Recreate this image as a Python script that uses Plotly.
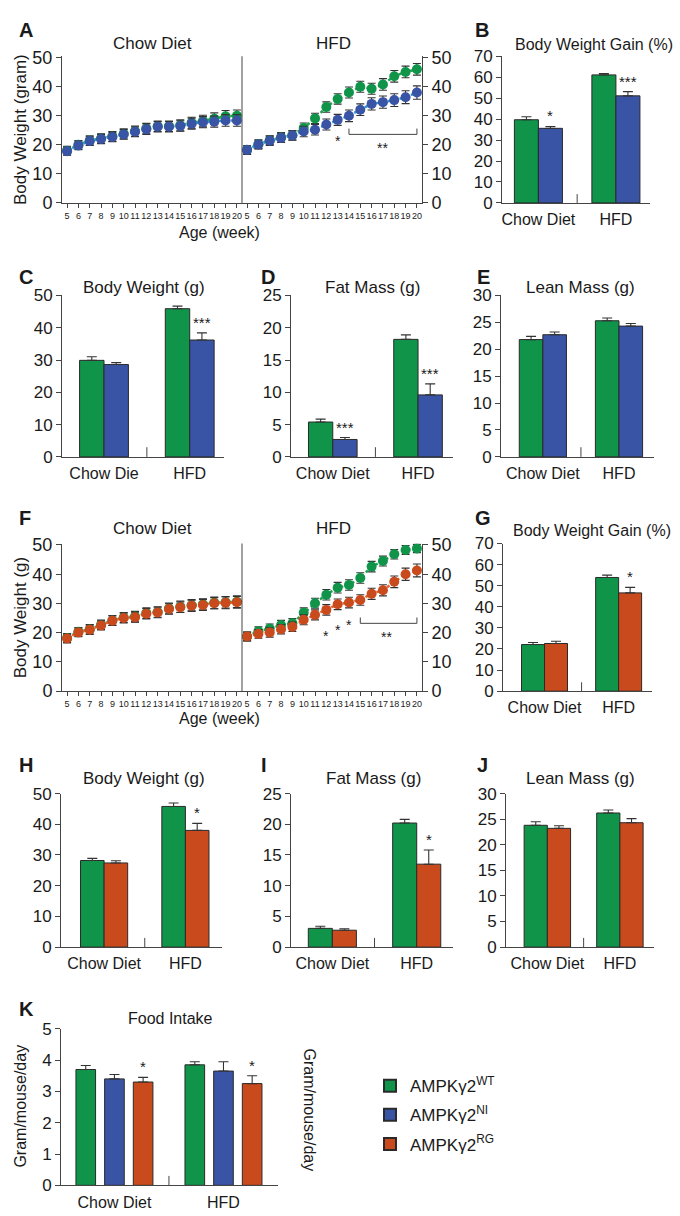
import plotly.graph_objects as go

W, H = 680, 1216
FONT = "Liberation Sans, Arial, sans-serif"
NARROW = "Liberation Sans Narrow, Arial Narrow, Liberation Sans, Arial, sans-serif"
TXT = "#1a1a1a"
AX = "#444444"
ERR = "#333333"
GREEN = "#10944a"
BLUE = "#3a54a5"
ORANGE = "#c94a1c"
GREEN_LINE = "#1fa34f"
BLUE_LINE = "#2b95d6"
ORANGE_LINE = "#e0622a"

# ---------------- data ----------------
weeks = list(range(5, 21))
groups = ["Chow Diet", "HFD"]
groups_c = ["Chow Die", "HFD"]

# Panel A: body weight (gram), WT vs NI
a_chow_wt = [18.0, 20.0, 21.5, 22.2, 22.9, 23.8, 24.7, 25.6, 26.4, 26.4, 26.7, 27.6, 28.2, 29.0, 29.8, 30.0]
a_chow_ni = [17.8, 19.8, 21.3, 22.0, 22.7, 23.6, 24.5, 25.4, 26.2, 26.2, 26.5, 27.3, 27.8, 28.0, 28.4, 28.4]
a_chow_wt_err = [1.5, 1.5, 1.6, 1.6, 1.7, 1.7, 1.8, 1.8, 1.8, 1.8, 1.9, 1.9, 2.0, 2.0, 2.0, 2.0]
a_chow_ni_err = [1.4, 1.5, 1.5, 1.6, 1.6, 1.7, 1.7, 1.8, 1.8, 1.8, 1.8, 1.9, 1.9, 1.9, 2.0, 2.0]
a_hfd_wt = [18.3, 20.2, 21.6, 22.6, 23.3, 25.8, 29.1, 33.0, 35.8, 38.0, 40.0, 39.3, 40.8, 43.6, 45.1, 46.0]
a_hfd_ni = [18.2, 20.1, 21.4, 22.4, 23.2, 24.6, 25.2, 27.0, 28.6, 30.0, 32.1, 34.1, 34.7, 35.4, 36.4, 38.0]
a_hfd_wt_err = [1.4, 1.5, 1.5, 1.6, 1.6, 1.7, 1.8, 1.8, 1.8, 1.9, 1.9, 1.9, 2.0, 2.0, 2.0, 2.0]
a_hfd_ni_err = [1.5, 1.5, 1.6, 1.6, 1.6, 1.8, 1.8, 1.9, 1.9, 2.0, 2.0, 2.1, 2.1, 2.2, 2.2, 2.3]

# Panel F: body weight (g), WT vs RG
f_chow_wt = [18.2, 20.3, 21.2, 22.7, 24.2, 25.2, 25.5, 26.7, 27.1, 28.3, 28.9, 29.4, 29.7, 30.2, 30.4, 30.6]
f_chow_rg = [18.0, 20.1, 21.0, 22.5, 24.1, 25.0, 25.3, 26.5, 26.9, 28.1, 28.7, 29.2, 29.5, 30.1, 30.2, 30.4]
f_chow_wt_err = [1.5, 1.5, 1.6, 1.6, 1.7, 1.7, 1.8, 1.8, 1.8, 1.8, 1.9, 1.9, 1.9, 2.0, 2.0, 2.0]
f_chow_rg_err = [1.5, 1.5, 1.6, 1.6, 1.6, 1.7, 1.7, 1.8, 1.8, 1.8, 1.8, 1.9, 1.9, 1.9, 2.0, 2.0]
f_hfd_wt = [18.7, 20.5, 21.4, 22.6, 23.2, 26.8, 30.1, 33.0, 35.4, 36.3, 38.7, 42.6, 44.5, 46.8, 48.3, 48.8]
f_hfd_rg = [18.7, 19.6, 20.1, 21.2, 22.0, 24.4, 26.1, 27.8, 29.7, 30.3, 31.2, 33.3, 34.5, 37.4, 40.0, 41.3]
f_hfd_wt_err = [1.5, 1.5, 1.6, 1.6, 1.6, 1.7, 1.7, 1.8, 1.8, 1.8, 1.8, 1.8, 1.7, 1.6, 1.5, 1.4]
f_hfd_rg_err = [1.5, 1.5, 1.6, 1.6, 1.6, 1.7, 1.7, 1.8, 1.8, 1.8, 1.8, 1.9, 1.9, 2.0, 2.1, 2.2]

# significance marks on line panels (week, y)
a_star_weeks = [13]
a_star_y = [22.5]
a_bracket = [14, 20]
a_bracket_y = 23.6
a_bracket_star = (17, 19.9)
f_star_weeks = [12, 13, 14]
f_star_y = [20.0, 22.0, 23.6]
f_bracket = [15, 20]
f_bracket_y = 23.2
f_bracket_star = (17.3, 19.4)

# Bar panels
b_wt = [39.7, 61.1]; b_wt_err = [1.4, 0.7]
b_ni = [35.6, 51.1]; b_ni_err = [0.9, 2.0]; b_stars = ["*", "***"]
c_wt = [29.9, 45.9]; c_wt_err = [1.1, 0.8]
c_ni = [28.6, 36.2]; c_ni_err = [0.6, 2.2]; c_stars = ["", "***"]
d_wt = [5.4, 18.2]; d_wt_err = [0.45, 0.7]
d_ni = [2.7, 9.6]; d_ni_err = [0.3, 1.7]; d_stars = ["***", "***"]
e_wt = [21.8, 25.3]; e_wt_err = [0.6, 0.5]
e_ni = [22.7, 24.3]; e_ni_err = [0.5, 0.5]; e_stars = ["", ""]
g_wt = [22.1, 53.9]; g_wt_err = [1.0, 1.1]
g_rg = [22.6, 46.6]; g_rg_err = [1.1, 2.6]; g_stars = ["", "*"]
h_wt = [28.2, 45.8]; h_wt_err = [0.7, 1.1]
h_rg = [27.4, 38.0]; h_rg_err = [0.7, 2.3]; h_stars = ["", "*"]
i_wt = [3.05, 20.2]; i_wt_err = [0.35, 0.6]
i_rg = [2.75, 13.5]; i_rg_err = [0.25, 2.3]; i_stars = ["", "*"]
j_wt = [23.8, 26.2]; j_wt_err = [0.7, 0.6]
j_rg = [23.2, 24.3]; j_rg_err = [0.5, 0.8]; j_stars = ["", ""]
k_wt = [3.7, 3.85]; k_wt_err = [0.13, 0.10]
k_ni = [3.4, 3.65]; k_ni_err = [0.14, 0.30]
k_rg = [3.3, 3.25]; k_rg_err = [0.15, 0.25]; k_stars = ["*", "*"]

legend_names = ["AMPKγ2<sup>WT</sup>", "AMPKγ2<sup>NI</sup>", "AMPKγ2<sup>RG</sup>"]

# ---------------- helpers ----------------
def xd(a, b):
    return [a / W, b / W]

def yd(top, bottom):
    return [1 - bottom / H, 1 - top / H]

fig = go.Figure()
layout = dict(width=W, height=H, margin=dict(l=0, r=0, t=0, b=0),
              paper_bgcolor="white", plot_bgcolor="white",
              font=dict(family=FONT, color=TXT), barmode="overlay",
              showlegend=True)
annotations = []
shapes = []

def yaxis_style(rng, dtick, size=17, side="left", anchor=None, **kw):
    d = dict(range=rng, dtick=dtick, tick0=0, showline=True, linecolor=AX, linewidth=1,
             ticks="outside", ticklen=5, tickcolor=AX, tickwidth=1, showgrid=False,
             zeroline=False, side=side, tickfont=dict(size=size, family=FONT, color=TXT))
    if anchor:
        d["anchor"] = anchor
    d.update(kw)
    return d

def line_x_style(dom, anchor):
    return dict(domain=dom, anchor=anchor, range=[4.55, 20.45], tickvals=weeks,
                ticktext=[str(w) for w in weeks], tickangle=0, ticks="outside", ticklen=4,
                tickcolor=AX, showline=True, linecolor=AX, linewidth=1, showgrid=False,
                zeroline=False, tickfont=dict(size=9, family=NARROW, color=TXT))

def bar_x_style(dom, anchor, rng, labels, size=16):
    return dict(domain=dom, anchor=anchor, range=rng, tickvals=[0, 1], ticktext=labels,
                ticks="", showline=True, linecolor=AX, linewidth=1, showgrid=False,
                zeroline=False, tickangle=0, ticklabelstandoff=2,
                tickfont=dict(size=size, family=FONT, color=TXT))

def ann(text, x, y, size=16, bold=False, xanchor="center", yanchor="middle", angle=0):
    if bold:
        text = "<b>" + text + "</b>"
    annotations.append(dict(text=text, x=x / W, y=1 - y / H, xref="paper", yref="paper",
                            showarrow=False, xanchor=xanchor, yanchor=yanchor, textangle=angle,
                            font=dict(size=size, family=FONT, color=TXT)))

def line_trace(x, y, err, color, lcolor, n):
    fig.add_trace(go.Scatter(
        x=x, y=y, xaxis=f"x{n}", yaxis=f"y{n}", mode="lines+markers",
        line=dict(color=lcolor, width=2.5, dash="dot"),
        marker=dict(color=color, size=10, line=dict(width=0)),
        error_y=dict(type="data", array=err, color=ERR, thickness=1.1, width=4),
        showlegend=False, hoverinfo="skip"))

def bar_trace(y, err, color, offset, width, n, name=None, legend=False, yaxis=None):
    fig.add_trace(go.Bar(
        x=[0, 1], y=y, xaxis=f"x{n}", yaxis=yaxis or f"y{n}", offset=offset, width=width,
        marker=dict(color=color, line=dict(color="#2a2a2a", width=1)),
        error_y=dict(type="data", array=err, arrayminus=[0] * len(err), symmetric=False,
                     color=ERR, thickness=1.1, width=5),
        name=name, showlegend=legend, legendgroup=name, hoverinfo="skip"))

def stars(n, vals, errs, marks, offset, width):
    for i, (v, e, m) in enumerate(zip(vals, errs, marks)):
        if m:
            annotations.append(dict(text=m, x=i + offset + width / 2, y=v + e, xref=f"x{n}",
                                    yref=f"y{n}", showarrow=False, yanchor="bottom",
                                    font=dict(size=15, family=FONT, color=TXT)))

def divider(n, frac):
    shapes.append(dict(type="line", xref=f"x{n}", yref=f"y{n} domain", x0=0.5, x1=0.5,
                       y0=0, y1=frac, line=dict(color=AX, width=1)))

def line_marks(n, sw, sy, br, by, bstar, ymax):
    for w, y in zip(sw, sy):
        annotations.append(dict(text="*", x=w, y=y, xref=f"x{n}", yref=f"y{n}", showarrow=False,
                                yshift=-3, font=dict(size=14, family=FONT, color=TXT)))
    tick = ymax * 0.04
    shapes.append(dict(type="line", xref=f"x{n}", yref=f"y{n}", x0=br[0], x1=br[1], y0=by, y1=by,
                       line=dict(color=AX, width=1)))
    for xb in br:
        shapes.append(dict(type="line", xref=f"x{n}", yref=f"y{n}", x0=xb, x1=xb, y0=by,
                           y1=by + tick, line=dict(color=AX, width=1)))
    annotations.append(dict(text="**", x=bstar[0], y=bstar[1], xref=f"x{n}", yref=f"y{n}",
                            showarrow=False, yshift=-3, font=dict(size=14, family=FONT, color=TXT)))

# ---------------- Row 1: A, B ----------------
R1 = (48, 197)
layout["xaxis"] = line_x_style(xd(62, 242), "y")
layout["yaxis"] = dict(domain=yd(*R1), **yaxis_style([0, 50.5], 10, size=18, anchor="x"))
layout["xaxis2"] = line_x_style(xd(242, 422), "y2")
layout["yaxis2"] = dict(domain=yd(*R1), **yaxis_style([0, 50.5], 10, size=18, side="right", anchor="x2"))
line_trace(weeks, a_chow_wt, a_chow_wt_err, GREEN, GREEN_LINE, "")
line_trace(weeks, a_chow_ni, a_chow_ni_err, BLUE, BLUE_LINE, "")
line_trace(weeks, a_hfd_wt, a_hfd_wt_err, GREEN, GREEN_LINE, 2)
line_trace(weeks, a_hfd_ni, a_hfd_ni_err, BLUE, BLUE_LINE, 2)
shapes.append(dict(type="line", xref="x2 domain", yref="y2 domain", x0=0, x1=0, y0=0, y1=1,
                   line=dict(color=AX, width=1)))
line_marks(2, a_star_weeks, a_star_y, a_bracket, a_bracket_y, a_bracket_star, 50)

BW2 = 0.31
layout["xaxis3"] = bar_x_style(xd(502, 650), "y3", [-0.47, 1.44], groups)
layout["yaxis3"] = dict(domain=yd(*R1), **yaxis_style([0, 70], 10, size=17, anchor="x3"))
bar_trace(b_wt, b_wt_err, GREEN, -BW2, BW2, 3)
bar_trace(b_ni, b_ni_err, BLUE, 0, BW2, 3)
stars(3, b_ni, b_ni_err, b_stars, 0, BW2)
divider(3, 0.06)

# ---------------- Row 2: C, D, E ----------------
R2 = (291, 455)
BW = 0.285
layout["xaxis4"] = bar_x_style(xd(62, 224), "y4", [-0.49, 1.4], groups_c)
layout["yaxis4"] = dict(domain=yd(*R2), **yaxis_style([0, 50], 10, anchor="x4"))
bar_trace(c_wt, c_wt_err, GREEN, -BW, BW, 4)
bar_trace(c_ni, c_ni_err, BLUE, 0, BW, 4)
stars(4, c_ni, c_ni_err, c_stars, 0, BW)
divider(4, 0.06)

layout["xaxis5"] = bar_x_style(xd(291, 453), "y5", [-0.49, 1.41], groups)
layout["yaxis5"] = dict(domain=yd(*R2), **yaxis_style([0, 25], 5, anchor="x5"))
bar_trace(d_wt, d_wt_err, GREEN, -BW, BW, 5)
bar_trace(d_ni, d_ni_err, BLUE, 0, BW, 5)
stars(5, d_ni, d_ni_err, d_stars, 0, BW)
divider(5, 0.06)

layout["xaxis6"] = bar_x_style(xd(501, 654), "y6", [-0.55, 1.46], groups)
layout["yaxis6"] = dict(domain=yd(*R2), **yaxis_style([0, 30], 5, anchor="x6"))
bar_trace(e_wt, e_wt_err, GREEN, -0.31, 0.31, 6)
bar_trace(e_ni, e_ni_err, BLUE, 0, 0.31, 6)
divider(6, 0.06)

# ---------------- Row 3: F, G ----------------
R3 = (543, 693)
layout["xaxis7"] = line_x_style(xd(62, 242), "y7")
layout["yaxis7"] = dict(domain=yd(*R3), **yaxis_style([0, 50.5], 10, size=18, anchor="x7"))
layout["xaxis8"] = line_x_style(xd(242, 422), "y8")
layout["yaxis8"] = dict(domain=yd(*R3), **yaxis_style([0, 50.5], 10, size=18, side="right", anchor="x8"))
line_trace(weeks, f_chow_wt, f_chow_wt_err, GREEN, GREEN_LINE, 7)
line_trace(weeks, f_chow_rg, f_chow_rg_err, ORANGE, ORANGE_LINE, 7)
line_trace(weeks, f_hfd_wt, f_hfd_wt_err, GREEN, GREEN_LINE, 8)
line_trace(weeks, f_hfd_rg, f_hfd_rg_err, ORANGE, ORANGE_LINE, 8)
shapes.append(dict(type="line", xref="x8 domain", yref="y8 domain", x0=0, x1=0, y0=0, y1=1,
                   line=dict(color=AX, width=1)))
line_marks(8, f_star_weeks, f_star_y, f_bracket, f_bracket_y, f_bracket_star, 50)

layout["xaxis9"] = bar_x_style(xd(503, 652), "y9", [-0.56, 1.45], groups)
layout["yaxis9"] = dict(domain=yd(*R3), **yaxis_style([0, 70], 10, size=17, anchor="x9"))
bar_trace(g_wt, g_wt_err, GREEN, -0.31, 0.31, 9)
bar_trace(g_rg, g_rg_err, ORANGE, 0, 0.31, 9)
stars(9, g_rg, g_rg_err, g_stars, 0, 0.31)
divider(9, 0.06)

# ---------------- Row 4: H, I, J ----------------
R4 = (797, 953)
layout["xaxis10"] = bar_x_style(xd(61, 222), "y10", [-0.53, 1.45], groups)
layout["yaxis10"] = dict(domain=yd(*R4), **yaxis_style([0, 50], 10, anchor="x10"))
bar_trace(h_wt, h_wt_err, GREEN, -0.29, 0.29, 10)
bar_trace(h_rg, h_rg_err, ORANGE, 0, 0.29, 10)
stars(10, h_rg, h_rg_err, h_stars, 0, 0.29)
divider(10, 0.06)

layout["xaxis11"] = bar_x_style(xd(291, 453), "y11", [-0.49, 1.43], groups)
layout["yaxis11"] = dict(domain=yd(*R4), **yaxis_style([0, 25], 5, anchor="x11"))
bar_trace(i_wt, i_wt_err, GREEN, -0.285, 0.285, 11)
bar_trace(i_rg, i_rg_err, ORANGE, 0, 0.285, 11)
stars(11, i_rg, i_rg_err, i_stars, 0, 0.285)
divider(11, 0.06)

layout["xaxis12"] = bar_x_style(xd(506, 654), "y12", [-0.57, 1.47], groups)
layout["yaxis12"] = dict(domain=yd(*R4), **yaxis_style([0, 30], 5, anchor="x12"))
bar_trace(j_wt, j_wt_err, GREEN, -0.32, 0.32, 12)
bar_trace(j_rg, j_rg_err, ORANGE, 0, 0.32, 12)
divider(12, 0.06)

# ---------------- Row 5: K ----------------
R5 = (1036, 1195)
KW = 0.18
KS = 0.263
layout["xaxis13"] = bar_x_style(xd(61, 278), "y13", [-0.49, 1.5], groups)
layout["yaxis13"] = dict(domain=yd(*R5), **yaxis_style([0, 5], 1, anchor="x13"))
layout["yaxis14"] = dict(domain=yd(*R5), overlaying="y13",
                         **yaxis_style([0, 4], 1, side="right", anchor="x13"))
bar_trace(k_wt, k_wt_err, GREEN, -KS - KW / 2, KW, 13, legend_names[0], True)
bar_trace(k_ni, k_ni_err, BLUE, -KW / 2, KW, 13, legend_names[1], True)
bar_trace(k_rg, k_rg_err, ORANGE, KS - KW / 2, KW, 13, legend_names[2], True)
stars(13, k_rg, k_rg_err, k_stars, KS - KW / 2, KW)
divider(13, 0.06)

# ---------------- Titles / labels ----------------
for letter, x, y in [("A", 17, 21), ("B", 473, 21), ("C", 17, 272), ("D", 259, 272),
                     ("E", 475, 272), ("F", 17, 517), ("G", 473, 517), ("H", 17, 768),
                     ("I", 259, 768), ("J", 475, 768), ("K", 17, 1016)]:
    ann(letter, x, y, size=20, bold=True, xanchor="left")

ann("Chow Diet", 152, 35, 17)
ann("HFD", 333, 35, 17)
ann("Body Weight Gain (%)", 594, 36, 16)
ann("Body Weight (g)", 144, 283, 17)
ann("Fat Mass (g)", 372, 283, 17)
ann("Lean Mass (g)", 580, 283, 17)
ann("Chow Diet", 152, 528, 17)
ann("HFD", 333, 528, 17)
ann("Body Weight Gain (%)", 592, 530, 16)
ann("Body Weight (g)", 144, 782, 17)
ann("Fat Mass (g)", 373, 782, 17)
ann("Lean Mass (g)", 580, 782, 17)
ann("Food Intake", 170, 1026, 16)

ann("Body Weight (gram)", 20, 123, 17, angle=-90)
ann("Age (week)", 219, 227, 16)
ann("Body Weight (g)", 20, 618, 17, angle=-90)
ann("Age (week)", 219, 721, 16)
ann("Gram/mouse/day", 21, 1115, 16, angle=-90)
ann("Gram/mouse/day", 309, 1118, 16, angle=90)

layout["annotations"] = annotations
layout["shapes"] = shapes
layout["legend"] = dict(x=370 / W, y=1 - 1076 / H, xanchor="left", yanchor="top",
                        bgcolor="rgba(0,0,0,0)", borderwidth=0, tracegroupgap=4,
                        font=dict(size=17, family=FONT, color=TXT), itemsizing="constant")

fig.update_layout(**layout)
fig.write_html("out.html", config={"displayModeBar": False},
               post_script="document.body.style.margin='0';")
